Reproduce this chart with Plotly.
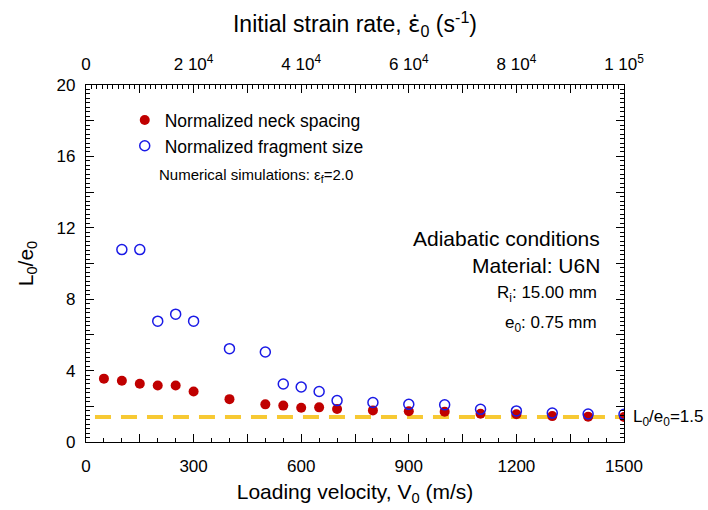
import plotly.graph_objects as go

# ---- data ----
velocity_neck = [50, 100, 150, 200, 250, 300, 400, 500, 550, 600, 650, 700, 800, 900, 1000, 1100, 1200, 1300, 1400, 1500]
neck_spacing = [3.55, 3.43, 3.26, 3.17, 3.17, 2.83, 2.40, 2.11, 2.04, 1.92, 1.94, 1.85, 1.77, 1.72, 1.70, 1.58, 1.55, 1.45, 1.42, 1.40]

velocity_frag = [100, 150, 200, 250, 300, 400, 500, 550, 600, 650, 700, 800, 900, 1000, 1100, 1200, 1300, 1400, 1500]
fragment_size = [10.78, 10.78, 6.77, 7.16, 6.77, 5.23, 5.04, 3.25, 3.08, 2.83, 2.32, 2.21, 2.11, 2.08, 1.83, 1.74, 1.62, 1.57, 1.55]

limit_x = [25, 1500]
limit_value = 1.4

x_tickvals = [0, 150, 300, 450, 600, 750, 900, 1050, 1200, 1350, 1500]
x_ticktext = ["0", "", "300", "", "600", "", "900", "", "1200", "", "1500"]
y_tickvals = [0, 2, 4, 6, 8, 10, 12, 14, 16, 18, 20]
y_ticktext = ["0", "", "4", "", "8", "", "12", "", "16", "", "20"]
top_tickvals = [0, 10000, 20000, 30000, 40000, 50000, 60000, 70000, 80000, 90000, 100000]
top_ticktext = ["0", "", "2 10<sup>4</sup>", "", "4 10<sup>4</sup>", "", "6 10<sup>4</sup>", "",
                "8 10<sup>4</sup>", "", "1 10<sup>5</sup>"]

FONT = "Arial, Liberation Sans, sans-serif"
RED = "#C00000"
BLUE = "#1A1AE6"
GOLD = "#F7C933"

fig = go.Figure()

fig.add_trace(go.Scatter(
    x=limit_x, y=[limit_value, limit_value], mode="lines",
    line=dict(color=GOLD, width=4, dash="16px,10px"),
    showlegend=False, hoverinfo="skip"))

fig.add_trace(go.Scatter(
    x=velocity_neck, y=neck_spacing, mode="markers",
    name="Normalized neck spacing",
    marker=dict(symbol="circle", size=10, color=RED)))

fig.add_trace(go.Scatter(
    x=velocity_frag, y=fragment_size, mode="markers",
    name="Normalized fragment size",
    marker=dict(symbol="circle-open", size=10, color=BLUE, line=dict(width=1.5, color=BLUE))))

# invisible trace to activate top axis
fig.add_trace(go.Scatter(x=[0, 100000], y=[None, None], xaxis="x2", yaxis="y",
                         mode="markers", showlegend=False, hoverinfo="skip"))

axis_common = dict(showline=True, linecolor="black", linewidth=1.3, showgrid=False,
                   zeroline=False, ticks="inside", tickcolor="black", tickwidth=1,
                   tickfont=dict(family=FONT, size=17, color="black"))

fig.update_layout(
    width=708, height=510,
    margin=dict(l=86, r=84, t=85, b=68, autoexpand=False),
    paper_bgcolor="white", plot_bgcolor="white",
    font=dict(family=FONT, color="black"),
    xaxis=dict(range=[0, 1500], tickmode="array", tickvals=x_tickvals, ticktext=x_ticktext,
               ticklen=8, ticklabelstandoff=8,
               minor=dict(dtick=50, ticklen=4, ticks="inside", tickcolor="black", showgrid=False),
               title=dict(text="Loading velocity, V<sub>0</sub> (m/s)", font=dict(size=21), standoff=9),
               **axis_common),
    xaxis2=dict(range=[0, 100000], overlaying="x", side="top", anchor="y",
                tickmode="array", tickvals=top_tickvals, ticktext=top_ticktext, ticklen=8,
                ticklabelstandoff=7,
                minor=dict(dtick=1000, ticklen=4, ticks="inside", tickcolor="black", showgrid=False),
                title=dict(text="Initial strain rate, <span style='font-family:DejaVu Sans'>\u03b5\u0307</span><sub>0</sub> (s<sup>-1</sup>)",
                           font=dict(size=23), standoff=12),
                **axis_common),
    yaxis=dict(range=[0, 20], tickmode="array", tickvals=y_tickvals, ticktext=y_ticktext,
               ticklen=8, mirror="ticks", ticklabelstandoff=6,
               minor=dict(dtick=0.25, ticklen=4, ticks="inside", tickcolor="black", showgrid=False),
               title=dict(text="L<sub>0</sub>/e<sub>0</sub>", font=dict(size=21), standoff=17),
               **axis_common),
    legend=dict(x=0.072, y=0.952, xanchor="left", yanchor="top", bgcolor="rgba(0,0,0,0)",
                font=dict(family=FONT, size=17.5), itemwidth=30, tracegroupgap=0),
    showlegend=True,
)

annotations = [
    dict(text="Numerical simulations: \u03b5<sub>f</sub>=2.0", x=157, y=175, size=15, anchor="left"),
    dict(text="Adiabatic conditions", x=602, y=238, size=21, anchor="right"),
    dict(text="Material: U6N", x=602, y=265, size=21, anchor="right"),
    dict(text="R<sub>i</sub>: 15.00 mm", x=599, y=294, size=17, anchor="right"),
    dict(text="e<sub>0</sub>: 0.75 mm", x=599, y=324, size=17, anchor="right"),
    dict(text="L<sub>0</sub>/e<sub>0</sub>=1.5", x=631, y=418, size=17, anchor="left"),
]
for a in annotations:
    fig.add_annotation(text=a["text"], xref="paper", yref="paper",
                       x=(a["x"] - 86) / 538, y=(442 - a["y"]) / 357,
                       xanchor=a["anchor"], yanchor="middle", showarrow=False,
                       font=dict(family=FONT, size=a["size"], color="black"))

fig.write_html("out.html", config={"displayModeBar": False},
               post_script="document.body.style.margin='0';")
